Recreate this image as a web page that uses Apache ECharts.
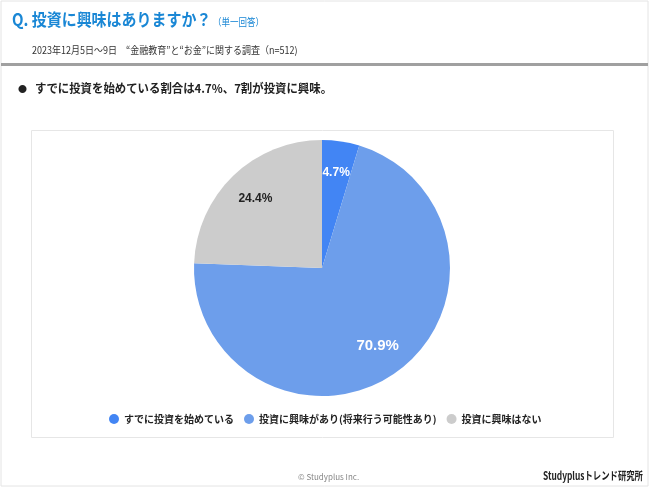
<!DOCTYPE html>
<html><head><meta charset="utf-8">
<script src="https://cdn.jsdelivr.net/npm/echarts@6/dist/echarts.min.js"></script>
<style>html,body{margin:0;padding:0;background:#fff}#c{width:650px;height:488px}</style>
</head><body><div id="c"></div>
<script>
var categories = ['すでに投資を始めている', '投資に興味があり(将来行う可能性あり)', '投資に興味はない'];
var values = [4.7, 70.9, 24.4];
var colors = ['#4285f4', '#6d9eeb', '#cccccc'];
var labelColors = ['#ffffff', '#ffffff', '#222222'];
var labelSizes = [12, 15, 12];

var FONT = '"Noto Sans CJK JP", "Noto Sans", sans-serif';
var chart = echarts.init(document.getElementById('c'), null, {renderer: 'canvas'});

var baseData = categories.map(function (c, i) {
  return {name: c, value: values[i], itemStyle: {color: colors[i]}};
});
var labelData = categories.map(function (c, i) {
  return {name: c, value: values[i], label: {color: labelColors[i], fontSize: labelSizes[i]}};
});

chart.setOption({
  animation: false,
  backgroundColor: '#ffffff',
  textStyle: {fontFamily: FONT},
  graphic: [
    {type: 'rect', shape: {x: 1, y: 1, width: 647, height: 485}, style: {fill: 'none', stroke: '#e4e4e4', lineWidth: 1}, z: 0},
    {type: 'rect', shape: {x: 1, y: 63, width: 647, height: 3}, style: {fill: '#a0a0a0'}, z: 0},
    {type: 'rect', shape: {x: 31.5, y: 130.5, width: 582, height: 307}, style: {fill: 'none', stroke: '#e6e6e6', lineWidth: 1}, z: 0},
    {type: 'text', x: 12, y: 11, scaleX: 0.88, style: {text: 'Q. 投資に興味はありますか？', fill: '#1a87d5', font: 'bold 17px ' + FONT}},
    {type: 'text', x: 213, y: 17, scaleX: 0.85, style: {text: '（単一回答）', fill: '#1a87d5', font: '10px ' + FONT}},
    {type: 'text', x: 32, y: 45, scaleX: 0.9, style: {text: '2023年12月5日～9日　“金融教育”と“お金”に関する調査（n=512)', fill: '#333333', font: '10px ' + FONT}},
    {type: 'text', x: 18, y: 84, style: {text: '●', fill: '#222222', font: '9px ' + FONT}},
    {type: 'text', x: 35, y: 82, scaleX: 0.95, style: {text: 'すでに投資を始めている割合は4.7%、7割が投資に興味。', fill: '#222222', font: 'bold 12px ' + FONT}},
    {type: 'text', x: 298, y: 473, style: {text: '© Studyplus Inc.', fill: '#888888', font: '8px ' + FONT}},
    {type: 'text', x: 543, y: 470, scaleX: 0.76, style: {text: 'Studyplusトレンド研究所', fill: '#222222', font: 'bold 11px ' + FONT}}
  ],
  legend: {
    data: categories,
    left: 104,
    top: 409,
    icon: 'circle',
    itemWidth: 10,
    itemHeight: 10,
    itemGap: 10,
    textStyle: {fontSize: 10, fontWeight: 'bold', color: '#222222', fontFamily: FONT}
  },
  series: [
    {
      type: 'pie',
      center: [322, 268],
      radius: [0, 128],
      startAngle: 90,
      clockwise: true,
      silent: true,
      label: {show: false},
      labelLine: {show: false},
      itemStyle: {borderWidth: 0},
      data: baseData
    },
    {
      type: 'pie',
      center: [322, 268],
      radius: [58, 128],
      startAngle: 90,
      clockwise: true,
      silent: true,
      legendHoverLink: false,
      itemStyle: {color: 'rgba(0,0,0,0)', borderWidth: 0},
      label: {
        show: true,
        position: 'inside',
        fontWeight: 'bold',
        fontFamily: '"Liberation Sans", Arial, sans-serif',
        formatter: function (p) { return p.value.toFixed(1) + '%'; }
      },
      labelLine: {show: false},
      data: labelData
    }
  ]
});
</script></body></html>
